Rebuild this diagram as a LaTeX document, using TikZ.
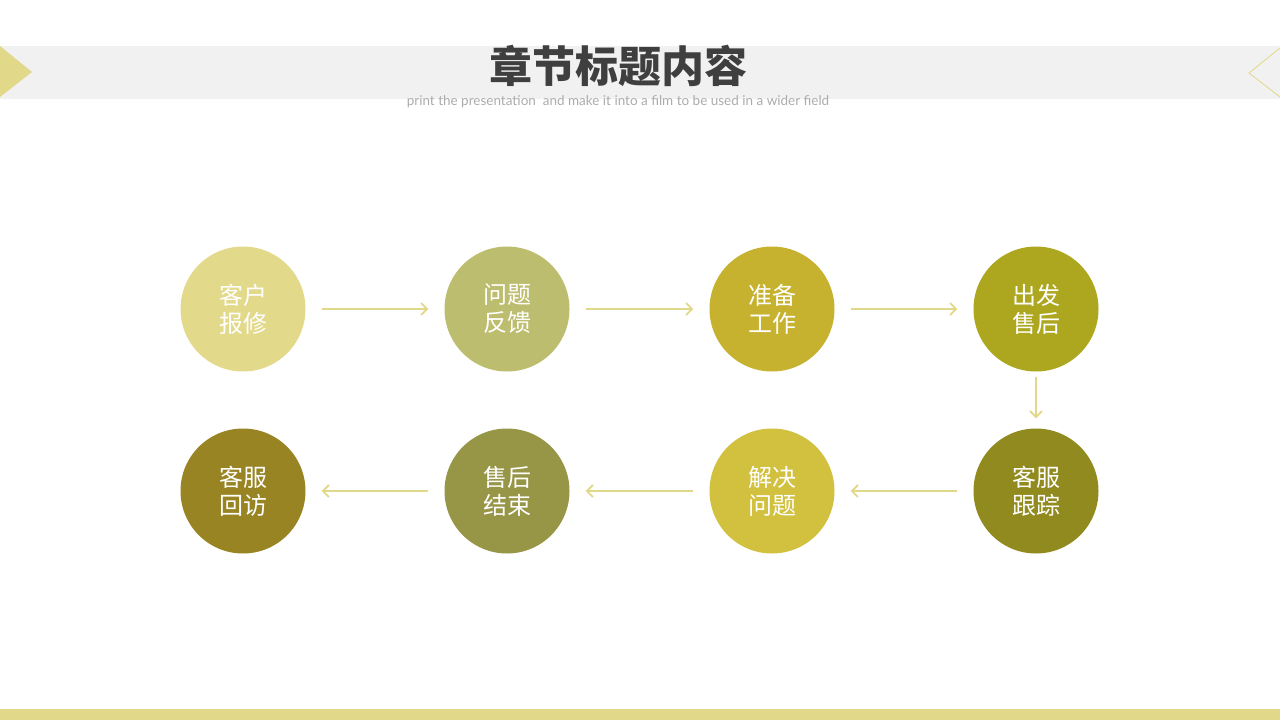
\documentclass[tikz,border=0pt]{standalone}
\usepackage{fontspec}
\setmainfont{Noto Sans CJK SC}
\newfontfamily\latinfont{Lato}
\usetikzlibrary{arrows.meta}

\definecolor{bandgray}{HTML}{F1F1F1}
\definecolor{paleyellow}{HTML}{E1D889}
\definecolor{titlegray}{HTML}{3F3F3F}
\definecolor{subgray}{HTML}{ABABAB}
\definecolor{cReport}{HTML}{E2D98A}
\definecolor{cFeedback}{HTML}{BDBD6F}
\definecolor{cPrepare}{HTML}{C6B22F}
\definecolor{cService}{HTML}{ADA720}
\definecolor{cTrack}{HTML}{918A1E}
\definecolor{cSolve}{HTML}{D2C03F}
\definecolor{cFinish}{HTML}{979546}
\definecolor{cVisit}{HTML}{988422}

\begin{document}
\begin{tikzpicture}[x=1pt,y=-1pt,
  phase/.style={circle, minimum size=125pt, inner sep=0pt, text=white,
                align=center, font=\fontsize{24}{28}\selectfont},
  flow/.style={draw=paleyellow, line width=1.8pt,
               -{Straight Barb[length=6pt,width=12pt]},
               shorten <=16pt, shorten >=16pt}]

  \useasboundingbox (0,0) rectangle (1280,720);

  % header band
  \fill [bandgray] (0,46) rectangle (1280,99);
  \fill [paleyellow] (0,46) -- (32,72) -- (0,97) -- cycle;
  \draw [paleyellow, line width=0.8pt] (1280,48) -- (1249,73) -- (1280,97);

  \node [text=titlegray, font=\fontsize{43}{48}\selectfont\bfseries]
        (title) at (618,66) {章节标题内容};
  \node [text=subgray, font=\latinfont\fontsize{13.5}{15}\selectfont]
        (subtitle) at (618,102)
        {print the presentation\ \ and make it into a film to be used in a wider field};

  % top row
  \node [phase, fill=cReport]   (report)   at (243,309)  {客户\\报修};
  \node [phase, fill=cFeedback] (feedback) at (507,309)  {问题\\反馈};
  \node [phase, fill=cPrepare]  (prepare)  at (772,309)  {准备\\工作};
  \node [phase, fill=cService]  (service)  at (1036,309) {出发\\售后};

  % bottom row
  \node [phase, fill=cTrack]  (track)  at (1036,491) {客服\\跟踪};
  \node [phase, fill=cSolve]  (solve)  at (772,491)  {解决\\问题};
  \node [phase, fill=cFinish] (finish) at (507,491)  {售后\\结束};
  \node [phase, fill=cVisit]  (visit)  at (243,491)  {客服\\回访};

  \draw [flow] (report) -- (feedback);
  \draw [flow] (feedback) -- (prepare);
  \draw [flow] (prepare) -- (service);
  \draw [flow, shorten <=5pt, shorten >=10pt] (service) -- (track);
  \draw [flow] (track) -- (solve);
  \draw [flow] (solve) -- (finish);
  \draw [flow] (finish) -- (visit);

  % footer bar
  \fill [paleyellow] (0,709) rectangle (1280,720);

\end{tikzpicture}
\end{document}
